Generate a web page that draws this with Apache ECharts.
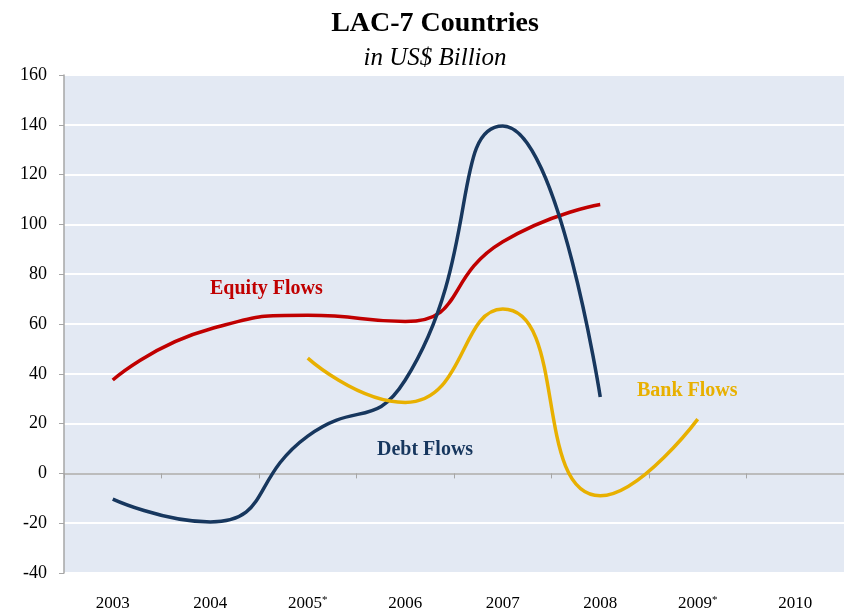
<!DOCTYPE html>
<html>
<head>
  <meta charset="utf-8" />
  <title>LAC-7 Countries</title>
  <script src="https://cdn.jsdelivr.net/npm/echarts@6/dist/echarts.min.js"></script>
  <style>
    html, body { margin: 0; padding: 0; background: #fff; }
    #chart { width: 844px; height: 613px; }
  </style>
</head>
<body>
  <div id="chart"></div>
  <script>
    // categories (an asterisk becomes a superscript)
    const years = ['2003', '2004', '2005*', '2006', '2007', '2008', '2009*', '2010'];
    const equityFlows = [37.5, 58, 63.5, 61, 93, 108, null, null];
    const debtFlows = [-10.3, -19.5, 15, 37.5, 139.5, 30.7, null, null];
    const bankFlows = [null, null, 46.3, 28.5, 66, -9, 21.8, null];

    const serif = '"Liberation Serif", "DejaVu Serif", serif';
    const RED = '#C00000', NAVY = '#17375E', GOLD = '#E8B000';

    const chart = echarts.init(document.getElementById('chart'));

    function yearLabel(v) {
      return v.indexOf('*') >= 0 ? v.replace('*', '') + '{s|*}' : v;
    }

    function lineSeries(name, data, color) {
      return {
        name: name, type: 'line', data: data, smooth: 0.55,
        showSymbol: false, connectNulls: false,
        lineStyle: { color: color, width: 3.5 },
        itemStyle: { color: color },
        z: 3
      };
    }

    chart.setOption({
      animation: false,
      textStyle: { fontFamily: serif },
      title: [
        { text: 'LAC-7 Countries', left: 430, top: 5, textAlign: 'center',
          textStyle: { fontFamily: serif, fontWeight: 'bold', fontSize: 28, color: '#000' } },
        { text: 'in US$ Billion', left: 430, top: 41, textAlign: 'center',
          textStyle: { fontFamily: serif, fontStyle: 'italic', fontWeight: 'normal', fontSize: 25, color: '#000' } }
      ],
      grid: { left: 64, top: 75, width: 782, height: 498, show: true,
        backgroundColor: '#E3E9F3', borderWidth: 0 },
      xAxis: [
        { type: 'category', data: years, position: 'bottom',
          axisLine: { show: false, onZero: false }, axisTick: { show: false },
          axisLabel: { margin: 22, fontSize: 17, color: '#000', fontFamily: serif,
            formatter: yearLabel,
            rich: { s: { fontSize: 11, verticalAlign: 'top', color: '#000', fontFamily: serif } } } },
        { type: 'category', data: years, position: 'bottom',
          axisLine: { show: true, onZero: true, lineStyle: { color: '#A6A6A6', width: 1.5 } },
          axisTick: { show: true, length: 5, lineStyle: { color: '#A6A6A6' } },
          axisLabel: { show: false }, splitLine: { show: false } }
      ],
      yAxis: {
        type: 'value', min: -40, max: 160, interval: 20,
        axisLine: { show: true, lineStyle: { color: '#A6A6A6', width: 1.5 } },
        axisTick: { show: true, length: 5, lineStyle: { color: '#A6A6A6' } },
        axisLabel: { fontSize: 18, color: '#000', fontFamily: serif, margin: 17 },
        splitLine: { show: true, lineStyle: { color: '#FFFFFF', width: 2 } }
      },
      series: [
        lineSeries('Equity Flows', equityFlows, RED),
        lineSeries('Debt Flows', debtFlows, NAVY),
        lineSeries('Bank Flows', bankFlows, GOLD)
      ],
      graphic: [
        { type: 'text', left: 210, top: 279, z: 10,
          style: { text: 'Equity Flows', fill: RED, font: 'bold 20px ' + serif } },
        { type: 'text', left: 377, top: 440, z: 10,
          style: { text: 'Debt Flows', fill: NAVY, font: 'bold 20px ' + serif } },
        { type: 'text', left: 637, top: 381, z: 10,
          style: { text: 'Bank Flows', fill: GOLD, font: 'bold 20px ' + serif } }
      ]
    });
  </script>
</body>
</html>
